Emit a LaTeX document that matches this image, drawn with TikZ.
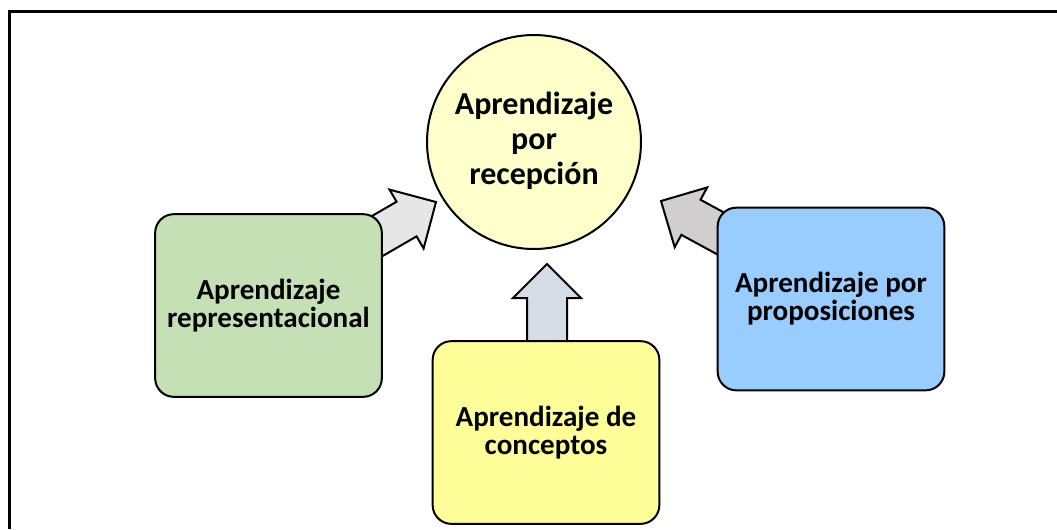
\documentclass[tikz,border=0pt]{standalone}
\usepackage{fontspec}
\setmainfont{Carlito}
\usetikzlibrary{calc,backgrounds}

\definecolor{boxgreen}{HTML}{C5E0B4}
\definecolor{boxyellow}{HTML}{FFFF99}
\definecolor{boxblue}{HTML}{99CCFF}
\definecolor{circyellow}{HTML}{FFFFCC}
\definecolor{arrowgrey}{HTML}{E6E6E6}
\definecolor{arrowblue}{HTML}{D6DCE5}
\definecolor{arrowdark}{HTML}{D0CECE}

\tikzset{
	box/.style={draw, line width=1.5pt, rounded corners=14pt, align=center,
		font=\fontsize{21.8}{21}\selectfont\bfseries,
		minimum width=170pt, minimum height=137pt},
	circbox/.style={draw, circle, line width=1.5pt, fill=circyellow, align=center,
		inner sep=0pt, minimum size=160.5pt,
		font=\fontsize{24}{26.25}\selectfont\bfseries},
	arrowline/.style={draw, line width=1.5pt},
}

% block arrow from #1 (tail) to #2 (tip), filled with #3
\newcommand{\blockarrow}[3]{%
	\draw[arrowline, fill=#3] let \p1=($(#2)-(#1)$), \n1={atan2(\y1,\x1)},
		\n2={veclen(\x1,\y1)-25.5pt} in
		($(#1)+(\n1+90:15pt)$) -- ($(#1)+(\n1:\n2)+(\n1+90:15pt)$)
		-- ($(#1)+(\n1:\n2)+(\n1+90:25.5pt)$) -- (#2)
		-- ($(#1)+(\n1:\n2)+(\n1-90:25.5pt)$) -- ($(#1)+(\n1:\n2)+(\n1-90:15pt)$)
		-- ($(#1)+(\n1-90:15pt)$) -- cycle;}

\begin{document}
\begin{tikzpicture}[x=0.75pt,y=-0.75pt]
	\useasboundingbox (0,0) rectangle (1057,529);
	\draw[line width=2.25pt] (9,529) -- (9,11) -- (1060,11);

	\node[circbox] (recep) at (534,142) {\raisebox{3pt}{\begin{tabular}{@{}c@{}}Aprendizaje\\por\\recepción\end{tabular}}};
	\node[box, fill=boxgreen] (repres) at (268.5,305.5) {Aprendizaje\\representacional};
	\node[box, fill=boxyellow] (concep) at (546,432.5) {Aprendizaje de\\conceptos};
	\node[box, fill=boxblue] (propos) at (831,299) {Aprendizaje por\\proposiciones};

	\coordinate (repres-out) at (360,246);
	\coordinate (concep-out) at (547,350);
	\coordinate (propos-out) at (740,244);
	\coordinate (recep-in1) at (436,202);
	\coordinate (recep-in2) at (547,264);
	\coordinate (recep-in3) at (661,201);

	\begin{scope}[on background layer]
		\blockarrow{repres-out}{recep-in1}{arrowgrey}
		\blockarrow{concep-out}{recep-in2}{arrowblue}
		\blockarrow{propos-out}{recep-in3}{arrowdark}
	\end{scope}
\end{tikzpicture}
\end{document}
